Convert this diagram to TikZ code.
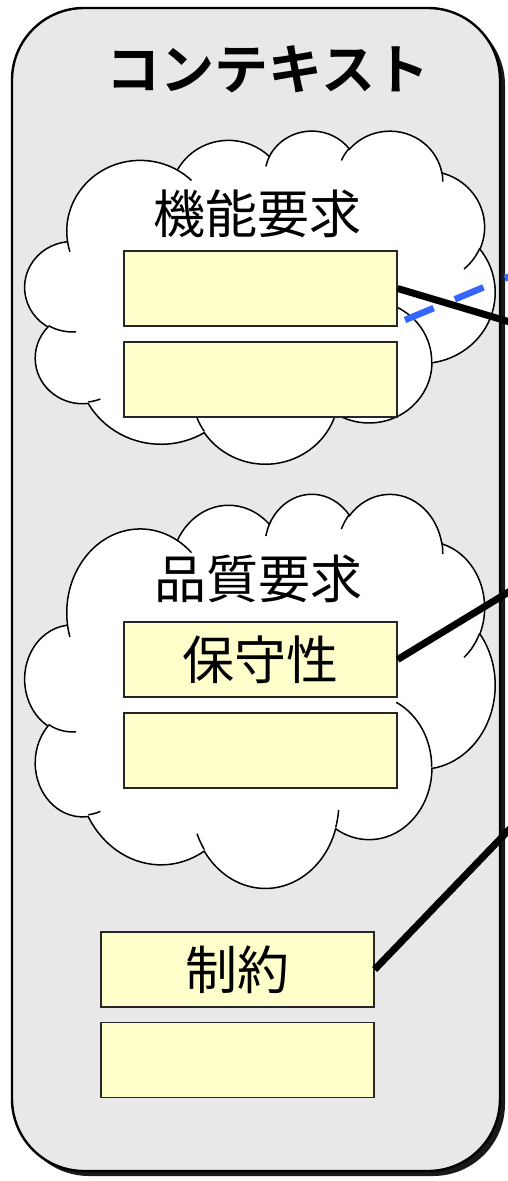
\documentclass[tikz,border=0pt]{standalone}
\usepackage{fontspec}
\newfontfamily\jp{Noto Sans CJK JP}[BoldFont={Noto Sans CJK JP Bold}]
\definecolor{panel}{RGB}{232,232,232}
\definecolor{note}{RGB}{255,255,204}
\definecolor{dashblue}{RGB}{51,102,255}
% visual (OOXML) angle -> parametric angle for an ellipse arc
\newcommand\cpa[4]{%
  \pgfmathsetmacro\cpaS{#3}%
  \pgfmathsetmacro\cpaE{#3+#4}%
  \pgfmathsetmacro\cpaD{mod(atan2(#1*sin(\cpaS),#2*cos(\cpaS))-\cpaS+900,360)-180}%
  \pgfmathsetmacro\cpaF{mod(atan2(#1*sin(\cpaE),#2*cos(\cpaE))-\cpaE+900,360)-180}%
  \pgfmathsetmacro\cpaA{\cpaS+\cpaD}%
  \pgfmathsetmacro\cpaB{\cpaE+\cpaF}%
  \global\let\cpaA\cpaA\global\let\cpaB\cpaB}
\newcommand\carc[4]{\pgfextra{\cpa{#1}{#2}{#3}{#4}} arc[start angle=\cpaA, end angle=\cpaB, x radius=#1, y radius=#2]}
\newcommand\cloudshape[4]{% x0, y0, xunit, yunit
  \begin{scope}[shift={(#1,#2)}, x=#3, y=-#4]
    \filldraw[cloudline, fill=white] (3.900,14.370)
      \carc{6.753}{9.190}{-190.48748}{123.78053}
      \carc{5.333}{7.267}{-144.10238}{89.94523}
      \carc{4.365}{5.945}{-145.80792}{99.72302}
      \carc{4.857}{6.595}{-130.98607}{117.24173}
      \carc{5.333}{7.273}{-78.70888}{109.02692}
      \carc{6.775}{9.220}{-46.26725}{130.26900}
      \carc{5.785}{7.867}{0.62502}{114.03333}
      \carc{6.752}{9.215}{22.45160}{115.17255}
      \carc{7.720}{10.543}{66.24263}{75.71102}
      \carc{4.360}{5.918}{-274.94208}{146.73557}
      \carc{4.345}{5.945}{-246.82850}{152.51885}
      -- cycle;
    \draw[cloudline]
      (4.693,26.177) \carc{4.345}{5.945}{86.74200}{26.42950}
      (6.928,34.899) \carc{4.360}{5.918}{73.61047}{11.44747}
      (16.478,39.090) \carc{6.752}{9.215}{137.62415}{14.08110}
      (28.827,34.751) \carc{6.752}{9.215}{6.45327}{15.99835}
      (34.129,22.954) \carc{5.785}{7.867}{-70.29235}{70.91737}
      (41.798,15.354) \carc{5.333}{7.273}{30.31803}{27.75150}
      (38.324,5.426) \carc{4.857}{6.595}{-13.74433}{14.85890}
      (29.078,3.952) \carc{4.857}{6.595}{-149.18145}{18.19537}
      (22.141,4.720) \carc{4.365}{5.945}{-163.49427}{17.68635}
      (14.000,5.192) \carc{6.753}{9.190}{-66.70695}{12.31935}
      (4.127,15.789) \carc{6.753}{9.190}{157.65435}{11.85817};
  \end{scope}}
\tikzset{
  cloudline/.style={draw=black, line width=1.5pt},
  notebox/.style={draw=black!85, line width=1.3pt, fill=note, minimum width=273pt, minimum height=75pt, inner sep=0pt, font=\jp\fontsize{52pt}{56pt}\selectfont},
  link/.style={line width=7pt, black},
  dashlink/.style={line width=6.5pt, dashblue, dash pattern=on 31pt off 23pt},
  heading/.style={font=\jp\fontsize{52pt}{56pt}\selectfont, inner sep=0pt}
}
\begin{document}
\begin{tikzpicture}[x=1pt, y=-1pt]
  \useasboundingbox (0,0) rectangle (508,1181);
  \clip (0,0) rectangle (508,1181);
  % panel with shadow
  \fill[black!90, rounded corners=72pt] (17,13) rectangle (505,1176);
  \draw[fill=panel, line width=2.4pt, rounded corners=72pt] (12,8) rectangle (500,1171);
  \node[font=\jp\bfseries\fontsize{54pt}{58pt}\selectfont, inner sep=0pt] (title) at (268,69) {コンテキスト};
  % clouds
  \cloudshape{25}{130}{10.8796pt}{7.7083pt}
  \cloudshape{25}{493}{10.8796pt}{9.1204pt}
  \node[heading] (fr) at (257,214) {機能要求};
  \node[heading] (qr) at (258,579) {品質要求};
  % boxes
  \node[notebox] (fr1) at (260.5,288.5) {};
  \node[notebox] (fr2) at (260.5,379.5) {};
  \node[notebox] (qr1) at (260.5,659.5) {保守性};
  \node[notebox] (qr2) at (260.5,750.5) {};
  \node[notebox] (c1) at (237.5,969.5) {制約};
  \node[notebox] (c2) at (237.5,1060) {};
  % connectors leaving the picture
  \coordinate (b0) at (405,320);
  \coordinate (b1) at (530,268);
  \coordinate (e1) at (530,328);
  \coordinate (e2) at (530,579);
  \coordinate (e3) at (530,808);
  \draw[dashlink] (b0) -- (b1);
  \draw[link] (fr1.east) -- (e1);
  \draw[link] (qr1.east) -- (e2);
  \draw[link] (c1.east) -- (e3);
\end{tikzpicture}
\end{document}
